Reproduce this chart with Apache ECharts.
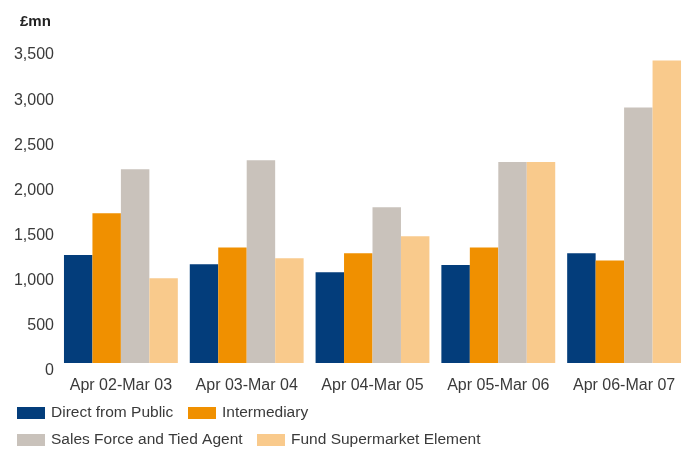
<!DOCTYPE html>
<html>
<head>
<meta charset="utf-8">
<script src="https://cdn.jsdelivr.net/npm/echarts@6/dist/echarts.min.js"></script>
<style>
  html, body { margin: 0; padding: 0; background: #fff; }
  #chart { width: 693px; height: 450px; }
</style>
</head>
<body>
<div id="chart"></div>
<script>
// periods on the x axis
const periods = ['Apr 02-Mar 03', 'Apr 03-Mar 04', 'Apr 04-Mar 05', 'Apr 05-Mar 06', 'Apr 06-Mar 07']

// £mn per channel
const directFromPublic = [1195, 1095, 1005, 1085, 1215]
const intermediary = [1660, 1280, 1215, 1280, 1135]
const salesForce = [2145, 2245, 1725, 2225, 2830]
const fundSupermarket = [940, 1160, 1405, 2225, 3350]

const seriesNames = ['Direct from Public', 'Intermediary', 'Sales Force and Tied Agent', 'Fund Supermarket Element']
const seriesColors = ['#033d7b', '#f09000', '#c9c2bb', '#f9ca8c']
const seriesData = [directFromPublic, intermediary, salesForce, fundSupermarket]

const textColor = '#3a3a3a'
const fontFamily = '"Liberation Sans", Arial, Helvetica, sans-serif'

const chart = echarts.init(document.getElementById('chart'))

// one legend per item so each sits where the original put it
const legendSpots = [
  { left: 17, top: 405 },
  { left: 188, top: 405 },
  { left: 17, top: 432 },
  { left: 257, top: 432 }
]

const options = {
  animation: false,
  title: {
    text: '£mn',
    left: 15,
    top: 9,
    textStyle: { fontSize: 15, fontWeight: 'bold', color: '#222', fontFamily }
  },
  legend: legendSpots.map((spot, i) => ({
    data: [seriesNames[i]],
    left: spot.left,
    top: spot.top,
    padding: 0,
    itemWidth: 28,
    itemHeight: 12,
    itemGap: 0,
    icon: 'rect',
    selectedMode: false,
    textStyle: { fontSize: 15.5, color: textColor, fontFamily, padding: [0, 0, 0, 1] }
  })),
  grid: { left: 58, right: 6, top: 47, bottom: 87 },
  xAxis: {
    type: 'category',
    data: periods,
    axisLine: { show: false },
    axisTick: { show: false },
    axisLabel: { interval: 0, margin: 15, fontSize: 16, color: textColor, fontFamily }
  },
  yAxis: {
    type: 'value',
    min: 0,
    max: 3500,
    interval: 500,
    splitLine: { show: false },
    axisLine: { show: false },
    axisTick: { show: false },
    axisLabel: {
      margin: 4,
      fontSize: 16,
      color: textColor,
      fontFamily,
      verticalAlign: 'top',
      formatter: v => v.toLocaleString('en-GB')
    }
  },
  series: seriesNames.map((name, i) => ({
    name,
    type: 'bar',
    data: seriesData[i],
    itemStyle: { color: seriesColors[i] },
    barGap: '0%',
    barCategoryGap: '9.5%'
  }))
}

chart.setOption(options)
</script>
</body>
</html>
